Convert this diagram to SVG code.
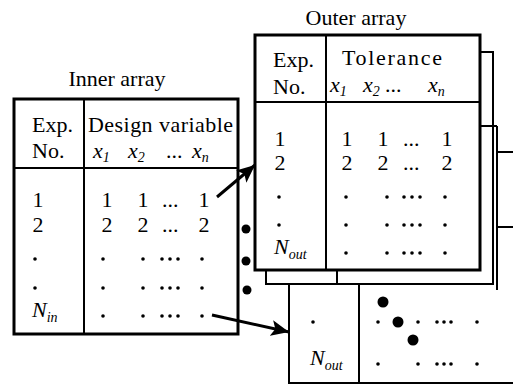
<svg xmlns="http://www.w3.org/2000/svg" width="513" height="385" viewBox="0 0 513 385">
<defs>
<style>
text{font-family:"Liberation Serif","Times New Roman",serif;font-size:22px;fill:#000}
.it{font-style:italic}
.sub{font-size:14px;font-style:italic}
.mid{text-anchor:middle}
.frame{fill:#fff;stroke:#000;stroke-width:3}
.back{fill:#fff;stroke:#000;stroke-width:2}
.sep{stroke:#000;stroke-width:2;fill:none}
.conn{stroke:#000;stroke-width:3;fill:none}
</style>
<marker id="ah" markerUnits="userSpaceOnUse" markerWidth="20" markerHeight="16" refX="18" refY="8" orient="auto">
<path d="M0,0 L18,8 L0,16 L4,8 z" fill="#000"/>
</marker>
</defs>

<g id="outer-back-2">
<path class="back" d="M289,284 L289,383 L520,383"/>
<line class="sep" x1="359" y1="284" x2="359" y2="383"/>
<path class="sep" d="M497,126 L497,290"/>
<line class="sep" x1="497" y1="152" x2="513" y2="152"/>
<line class="sep" x1="497" y1="227" x2="513" y2="227"/>
<circle cx="313" cy="322" r="1.8"/>
<text class="it" x="310" y="365">N<tspan class="sub" dy="5">out</tspan></text>
<circle cx="378" cy="322" r="1.8"/><circle cx="418" cy="322" r="1.8"/>
<circle cx="437" cy="322" r="1.8"/><circle cx="444" cy="322" r="1.8"/><circle cx="451" cy="322" r="1.8"/>
<circle cx="477" cy="322" r="1.8"/>
<circle cx="378" cy="364" r="1.8"/><circle cx="418" cy="364" r="1.8"/>
<circle cx="437" cy="364" r="1.8"/><circle cx="444" cy="364" r="1.8"/><circle cx="451" cy="364" r="1.8"/>
<circle cx="477" cy="364" r="1.8"/>
<circle cx="383" cy="302" r="5.5"/><circle cx="398" cy="322" r="5.5"/><circle cx="413" cy="340" r="5.5"/>
</g>

<g id="outer-back-1">
<rect class="back" x="266" y="52" width="227" height="232"/>
<line class="sep" x1="337" y1="52" x2="337" y2="284"/>
<line class="sep" x1="266" y1="126" x2="497" y2="126"/>
</g>

<g id="outer">
<text class="mid" x="356" y="25">Outer array</text>
<rect class="frame" x="255" y="35" width="225" height="235"/>
<line class="sep" x1="326" y1="35" x2="326" y2="270"/>
<line class="sep" x1="255" y1="102" x2="480" y2="102"/>
<text x="273" y="67">Exp.</text>
<text x="273" y="94">No.</text>
<text x="342" y="65" textLength="100">Tolerance</text>
<text class="it" x="330" y="92">x<tspan class="sub" dy="4">1</tspan></text>
<text class="it" x="363" y="92">x<tspan class="sub" dy="4">2</tspan></text>
<text x="385" y="92">...</text>
<text class="it" x="428" y="92">x<tspan class="sub" dy="4">n</tspan></text>
<text class="mid" x="280" y="146">1</text>
<text class="mid" x="347" y="146">1</text>
<text class="mid" x="383" y="146">1</text>
<text x="403" y="146">...</text>
<text class="mid" x="447" y="146">1</text>
<text class="mid" x="280" y="170">2</text>
<text class="mid" x="347" y="170">2</text>
<text class="mid" x="383" y="170">2</text>
<text x="403" y="170">...</text>
<text class="mid" x="447" y="170">2</text>
<circle cx="279" cy="197" r="1.8"/>
<circle cx="346" cy="197" r="1.8"/><circle cx="387" cy="197" r="1.8"/>
<circle cx="404" cy="197" r="1.8"/><circle cx="412" cy="197" r="1.8"/><circle cx="420" cy="197" r="1.8"/>
<circle cx="445" cy="197" r="1.8"/>
<circle cx="279" cy="225" r="1.8"/>
<circle cx="346" cy="225" r="1.8"/><circle cx="387" cy="225" r="1.8"/>
<circle cx="404" cy="225" r="1.8"/><circle cx="412" cy="225" r="1.8"/><circle cx="420" cy="225" r="1.8"/>
<circle cx="445" cy="225" r="1.8"/>
<text class="it" x="274" y="254">N<tspan class="sub" dy="5">out</tspan></text>
<circle cx="346" cy="253" r="1.8"/><circle cx="387" cy="253" r="1.8"/>
<circle cx="404" cy="253" r="1.8"/><circle cx="412" cy="253" r="1.8"/><circle cx="420" cy="253" r="1.8"/>
<circle cx="445" cy="253" r="1.8"/>
</g>

<g id="inner">
<text class="mid" x="117" y="86">Inner array</text>
<rect class="frame" x="14" y="99" width="224" height="235"/>
<line class="sep" x1="84" y1="99" x2="84" y2="334"/>
<line class="sep" x1="14" y1="168" x2="238" y2="168"/>
<text x="32" y="132">Exp.</text>
<text x="32" y="158">No.</text>
<text x="88" y="132" textLength="145">Design variable</text>
<text class="it" x="93" y="158">x<tspan class="sub" dy="4">1</tspan></text>
<text class="it" x="128" y="158">x<tspan class="sub" dy="4">2</tspan></text>
<text x="166" y="158">...</text>
<text class="it" x="192" y="158">x<tspan class="sub" dy="4">n</tspan></text>
<text class="mid" x="38" y="207">1</text>
<text class="mid" x="107" y="207">1</text>
<text class="mid" x="143" y="207">1</text>
<text x="162" y="207">...</text>
<text class="mid" x="204" y="207">1</text>
<text class="mid" x="38" y="232">2</text>
<text class="mid" x="107" y="232">2</text>
<text class="mid" x="143" y="232">2</text>
<text x="162" y="232">...</text>
<text class="mid" x="204" y="232">2</text>
<circle cx="35" cy="259" r="1.8"/>
<circle cx="103" cy="259" r="1.8"/><circle cx="143" cy="259" r="1.8"/>
<circle cx="162" cy="259" r="1.8"/><circle cx="170" cy="259" r="1.8"/><circle cx="178" cy="259" r="1.8"/>
<circle cx="202" cy="259" r="1.8"/>
<circle cx="35" cy="288" r="1.8"/>
<circle cx="103" cy="288" r="1.8"/><circle cx="143" cy="288" r="1.8"/>
<circle cx="162" cy="288" r="1.8"/><circle cx="170" cy="288" r="1.8"/><circle cx="178" cy="288" r="1.8"/>
<circle cx="202" cy="288" r="1.8"/>
<text class="it" x="32" y="317">N<tspan class="sub" dy="5">in</tspan></text>
<circle cx="103" cy="316" r="1.8"/><circle cx="143" cy="316" r="1.8"/>
<circle cx="162" cy="316" r="1.8"/><circle cx="170" cy="316" r="1.8"/><circle cx="178" cy="316" r="1.8"/>
<circle cx="202" cy="316" r="1.8"/>
</g>

<g id="stack-dots">
<circle cx="246" cy="229" r="4.5"/>
<circle cx="246" cy="261" r="4.5"/>
<circle cx="247" cy="290" r="4.5"/>
</g>

<g id="connectors">
<line class="conn" x1="217" y1="197" x2="255" y2="165" marker-end="url(#ah)"/>
<line class="conn" x1="212" y1="315" x2="289" y2="332" marker-end="url(#ah)"/>
</g>
</svg>
